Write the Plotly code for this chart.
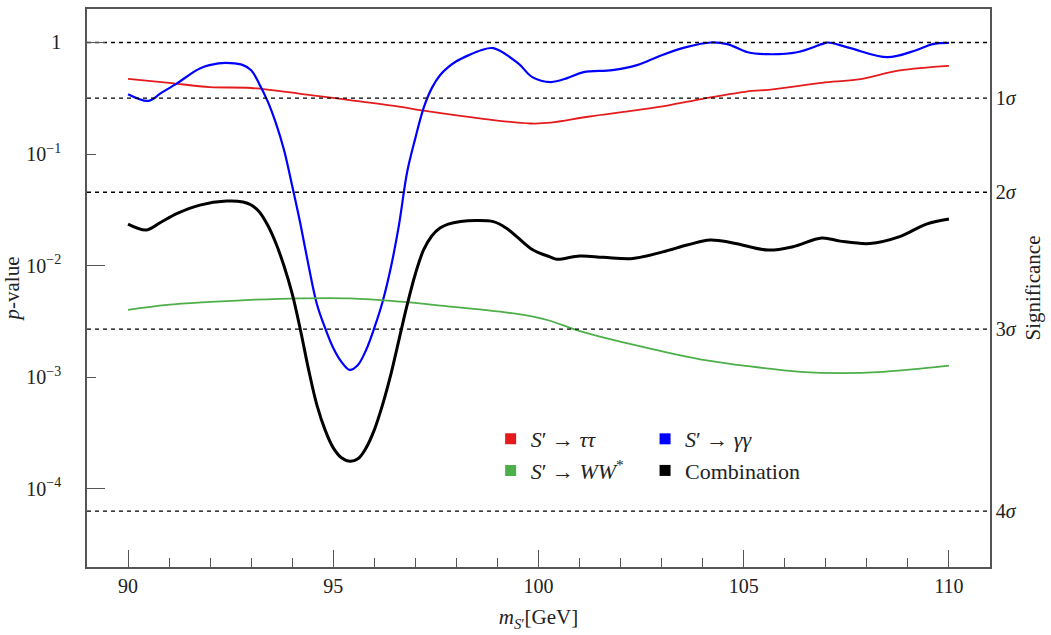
import plotly.graph_objects as go

# ---------------- data ----------------
mass_tautau = [90.0, 91.0, 92.0, 93.0, 94.2, 95.4, 96.6, 97.2, 98.7, 99.8, 100.3, 101.2,
               102.4, 103.2, 104.0, 105.2, 105.6, 106.9, 107.8, 108.8, 110.0]
p_tautau = [0.472, 0.435, 0.398, 0.391, 0.347, 0.305, 0.266, 0.245, 0.206, 0.188, 0.191, 0.216,
            0.248, 0.275, 0.313, 0.369, 0.376, 0.435, 0.467, 0.562, 0.618]

mass_gamgam = [90.0, 90.5, 90.8, 91.2, 91.75, 92.2, 92.5, 92.8,
               93.0, 93.2, 93.4, 93.6, 93.8, 94.0, 94.2, 94.4, 94.6, 94.8, 95.0, 95.2, 95.4,
               95.6, 95.8, 96.0, 96.2, 96.4, 96.6, 96.8, 97.0, 97.2, 97.4, 97.6, 97.8, 98.0,
               98.3, 98.6, 98.9, 99.5, 99.85, 100.3, 100.7, 101.1, 101.8, 102.4, 103.0, 103.6,
               104.2, 104.6, 105.1, 105.6, 106.3, 106.9, 107.05, 107.6, 108.5, 109.2, 109.6, 110.0]
p_gamgam = [0.344, 0.300, 0.352, 0.432, 0.585, 0.649, 0.653, 0.627,
            0.565, 0.423, 0.298, 0.190, 0.1086, 0.0517, 0.0236, 0.00993, 0.00454, 0.00277,
            0.00183, 0.001374, 0.001164, 0.001289, 0.001757, 0.00277, 0.00473, 0.00953, 0.0231,
            0.0690, 0.139, 0.258, 0.390, 0.509, 0.601, 0.679, 0.769, 0.853, 0.889, 0.653, 0.489,
            0.442, 0.479, 0.542, 0.565, 0.627, 0.769, 0.908, 1.0, 0.966, 0.818, 0.785, 0.818,
            0.966, 1.0, 0.889, 0.738, 0.853, 0.966, 0.99]

mass_ww = [90.0, 90.95, 92.0, 92.98, 94.2, 95.41, 96.63, 97.85, 99.07, 99.87, 100.28, 100.93,
           101.82, 102.8, 103.94, 105.16, 106.38, 107.35, 108.39, 110.0]
p_ww = [0.00401, 0.00445, 0.00473, 0.00494, 0.00510, 0.00510, 0.00476, 0.00430, 0.00387,
        0.00349, 0.00321, 0.00265, 0.00216, 0.00178, 0.00145, 0.00125, 0.00112, 0.00109,
        0.00112, 0.00127]

mass_comb = [90.0, 90.45, 90.8, 91.2, 91.75, 92.4, 92.8,
             93.0, 93.2, 93.4, 93.6, 93.8, 94.0, 94.2, 94.4, 94.6, 94.8, 95.0, 95.2, 95.4,
             95.6, 95.8, 96.0, 96.2, 96.4, 96.6, 96.8, 97.0, 97.2, 97.4, 97.6, 97.8, 98.1,
             98.5, 98.9, 99.2, 99.47, 99.87, 100.28, 100.45, 101.0, 101.58, 102.3, 103.03,
             103.62, 104.18, 104.74, 105.6, 106.2, 106.9, 107.35, 108.07, 108.8, 109.45, 110.0]
p_comb = [0.0236, 0.0209, 0.0245, 0.0294, 0.0349, 0.0379, 0.0372,
          0.03495, 0.03027, 0.02313, 0.01597, 0.00993, 0.00558, 0.002655, 0.001164, 0.000566,
          0.000338, 0.000233, 0.0001898, 0.0001766, 0.0001858, 0.000233, 0.000338, 0.000566,
          0.00105, 0.002163, 0.00445, 0.00843, 0.01383, 0.01845, 0.02173, 0.0236, 0.0249,
          0.0254, 0.0248, 0.0219, 0.0182, 0.0138, 0.0120, 0.0114, 0.0122, 0.0119, 0.0116,
          0.0133, 0.0153, 0.0170, 0.0160, 0.0138, 0.0148, 0.0177, 0.0166, 0.0158, 0.0182,
          0.0236, 0.0262]

series_names = ["<i>S</i>′ → <i>ττ</i>", "<i>S</i>′ → <i>γγ</i>",
                "<i>S</i>′ → <i>WW</i><sup>*</sup>", "Combination"]
series_colors = ["#e41a1c", "#0000ff", "#4daf4a", "#000000"]
series_widths = [1.8, 2.2, 1.8, 3.0]

sigma_pvalues = [1.0, 0.3173, 0.0455, 0.0027, 6.33e-5]
sigma_labels = ["", "1<i>σ</i>", "2<i>σ</i>", "3<i>σ</i>", "4<i>σ</i>"]

x_range = [89, 111]
x_major = [90, 95, 100, 105, 110]
x_minor = [91, 92, 93, 94, 96, 97, 98, 99, 101, 102, 103, 104, 106, 107, 108, 109]
y_log_range = [-4.70, 0.30]
y_ticks = [1, 1e-1, 1e-2, 1e-3, 1e-4]
y_ticklabels = ["1", "10<sup>−1</sup>", "10<sup>−2</sup>", "10<sup>−3</sup>", "10<sup>−4</sup>"]
y_long_ticks = [1, 1e-2, 1e-4]

FONT = "'Liberation Serif', 'DejaVu Serif', serif"
AX = "#555555"

fig = go.Figure()

# dashed significance reference lines
for p in sigma_pvalues:
    fig.add_trace(go.Scatter(x=x_range, y=[p, p], mode="lines", yaxis="y2",
                             line=dict(color="black", width=1.3, dash="4px,4px"),
                             showlegend=False, hoverinfo="skip"))

series = [(mass_tautau, p_tautau), (mass_gamgam, p_gamgam), (mass_ww, p_ww), (mass_comb, p_comb)]
for (mx, py), c, w in zip(series, series_colors, series_widths):
    fig.add_trace(go.Scatter(x=mx, y=py, mode="lines",
                             line=dict(color=c, width=w, shape="spline", smoothing=1.0),
                             showlegend=False))

# legend entries (square swatches), two columns
legend_ids = ["legend", "legend2", "legend", "legend2"]
for name, c, lg in zip(series_names, series_colors, legend_ids):
    fig.add_trace(go.Scatter(x=[None], y=[None], mode="markers", name=name, legend=lg,
                             marker=dict(symbol="square", size=11, color=c)))

# helper trace for long-tick overlay axis
fig.add_trace(go.Scatter(x=[None], y=[None], yaxis="y3", showlegend=False, hoverinfo="skip"))

fig.update_layout(
    width=1051, height=635,
    margin=dict(l=87, r=61, t=9, b=68, autoexpand=False),
    paper_bgcolor="white", plot_bgcolor="white",
    font=dict(family=FONT, size=20, color="#222222"),
    xaxis=dict(range=x_range, showgrid=False, zeroline=False, automargin=False,
               showline=True, linecolor=AX, linewidth=1.6, mirror=True,
               tickmode="array", tickvals=x_major, ticktext=[str(v) for v in x_major],
               ticks="inside", ticklen=17, tickwidth=1.3, tickcolor=AX,
               minor=dict(tickmode="array", tickvals=x_minor, ticks="inside", ticklen=9,
                          tickwidth=1.3, tickcolor=AX),
               tickfont=dict(family=FONT, size=20),
               title=dict(text="<i>m</i><sub><i>S</i>′</sub>[GeV]",
                          font=dict(family=FONT, size=21), standoff=14)),
    yaxis=dict(type="log", range=y_log_range, showgrid=False, zeroline=False, automargin=False,
               showline=True, linecolor=AX, linewidth=1.6,
               tickmode="array", tickvals=y_ticks, ticktext=y_ticklabels,
               ticks="inside", ticklen=9, tickwidth=1.3, tickcolor=AX,
               ticklabelstandoff=20, tickfont=dict(family=FONT, size=20),
               title=dict(text="<i>p</i>-value", font=dict(family=FONT, size=21), standoff=12)),
    yaxis2=dict(type="log", range=y_log_range, overlaying="y", side="right", anchor="x",
                automargin=False,
                showgrid=False, zeroline=False, showline=True, linecolor=AX, linewidth=1.6,
                tickmode="array", tickvals=sigma_pvalues[1:], ticktext=sigma_labels[1:],
                ticks="", tickfont=dict(family=FONT, size=20), ticklabelstandoff=0,
                title=dict(text="Significance", font=dict(family=FONT, size=21), standoff=10)),
    yaxis3=dict(type="log", range=y_log_range, overlaying="y", side="left", anchor="x",
                automargin=False,
                showgrid=False, zeroline=False, showline=False,
                tickmode="array", tickvals=y_long_ticks, showticklabels=False,
                ticks="inside", ticklen=18, tickwidth=1.3, tickcolor=AX),
    legend=dict(x=0.447, y=0.267, xanchor="left", yanchor="top", bgcolor="rgba(0,0,0,0)",
                font=dict(family=FONT, size=22, color="#222222"), itemsizing="trace"),
    legend2=dict(x=0.618, y=0.267, xanchor="left", yanchor="top", bgcolor="rgba(0,0,0,0)",
                 font=dict(family=FONT, size=22, color="#222222"), itemsizing="trace"),
)

fig.write_html("out.html")
